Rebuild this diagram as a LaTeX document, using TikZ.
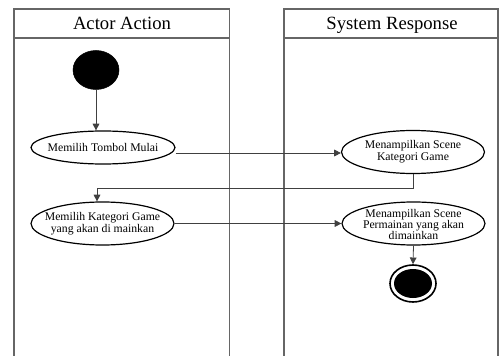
\documentclass[tikz,border=0pt]{standalone}
\usepackage{fontspec}
\setmainfont{Liberation Serif}
\usetikzlibrary{arrows.meta,shapes.geometric}
\begin{document}
\begin{tikzpicture}[x=0.75pt,y=-0.75pt,
  lane/.style={draw=black!60,line width=0.9pt},
  act/.style={ellipse,draw=black,line width=0.9pt,minimum width=143*0.75pt,minimum height=43*0.75pt,inner sep=0pt},
  acttext/.style={align=center,inner sep=0pt,font=\fontsize{8.8}{9.2}\selectfont},
  flow/.style={draw=black!75,line width=0.6pt,-{Triangle[length=5pt,width=5pt]}},
  hdr/.style={anchor=base,inner sep=0pt,font=\fontsize{14}{16}\selectfont}]
\useasboundingbox (0,0) rectangle (499,356);
% lanes
\draw[lane] (14,356) -- (14,9) -- (229.5,9) -- (229.5,356);
\draw[lane] (14,38) -- (229.5,38);
\draw[lane] (284,356) -- (284,9) -- (498,9) -- (498,356);
\draw[lane] (284,38) -- (498,38);
\node[hdr] (h1) at (122,29.5) {Actor Action};
\node[hdr] (h2) at (392,29.5) {System Response};
% start
\node[ellipse,fill=black,draw=black,minimum width=46*0.75pt,minimum height=39*0.75pt,inner sep=0pt] (start) at (96,70) {};
\node[act,minimum height=33*0.75pt,minimum width=144*0.75pt] (a1) at (103,147.5) {};
\node[acttext] (a1t) at (a1) {Memilih Tombol Mulai};
\node[act] (s1) at (413,152) {};
\node[acttext] (s1t) at (s1) {Menampilkan Scene\\Kategori Game};
\node[act] (a2) at (102.5,223.5) {};
\node[acttext] (a2t) at (a2) {Memilih Kategori Game\\yang akan di mainkan};
\node[act] (s2) at (413.5,223.5) {};
\node[acttext,font=\fontsize{8.8}{8.6}\selectfont] (s2t) at (413.5,224.5) {Menampilkan Scene\\Permainan yang akan\\dimainkan};
% end
\node[ellipse,draw=black,line width=1.2pt,minimum width=46*0.75pt,minimum height=37*0.75pt,inner sep=0pt] (end) at (413,283.5) {};
\node[ellipse,fill=black,minimum width=38*0.75pt,minimum height=29*0.75pt,inner sep=0pt] (endin) at (413,283.5) {};
% flows
\draw[flow] (start) -- (start|-a1.north);
\draw[flow] (a1.east|-0,153) -- (s1.west|-0,153);
\coordinate (c1) at (413,188);
\coordinate (c2) at (97,188);
\draw[flow] (s1.south) -- (c1) -- (c2) -- (a2.north-|c2);
\draw[flow] (a2.east) -- (s2.west);
\draw[flow] (s2.south) -- (end.north);
\end{tikzpicture}
\end{document}
